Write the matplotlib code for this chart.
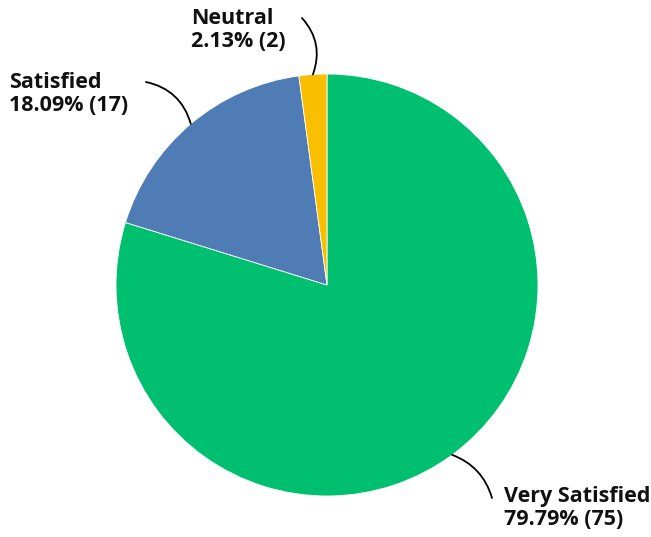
import numpy as np
import matplotlib.pyplot as plt

categories = ["Very Satisfied", "Satisfied", "Neutral"]
counts = [75, 17, 2]
colors = ["#00BF6F", "#507CB6", "#F9BE00"]

# label text anchor (left, top) and leader-line outer end, in pixel coords (y up)
label_pos = [(504, 51), (9, 465), (191, 529)]
line_end = [(492, 39), (146, 455), (302, 519)]
line_rad = [0.25, -0.3, -0.3]

W, H = 651, 537
cx, cy, R = 327, 252, 211

fig = plt.figure(figsize=(W / 100, H / 100), dpi=100)
ax = fig.add_axes([0, 0, 1, 1])

ax.pie(counts, colors=colors, startangle=90, counterclock=False,
       center=(cx, cy), radius=R, frame=True,
       wedgeprops=dict(edgecolor="white", linewidth=0.6))
ax.set_xlim(0, W)
ax.set_ylim(0, H)
ax.set_aspect("equal")
ax.axis("off")

total = sum(counts)
fracs = np.array(counts) / total
starts = 90 - 360 * np.concatenate([[0], np.cumsum(fracs)[:-1]])
mids = np.radians(starts - 360 * fracs / 2)

for i, cat in enumerate(categories):
    px = cx + R * np.cos(mids[i])
    py = cy + R * np.sin(mids[i])
    ax.annotate("", xy=(px, py), xytext=line_end[i],
                arrowprops=dict(arrowstyle="-", color="black", lw=1.3,
                                shrinkA=0, shrinkB=0,
                                connectionstyle=f"arc3,rad={line_rad[i]}"))
    label = f"{cat}\n{fracs[i] * 100:.2f}% ({counts[i]})"
    ax.text(label_pos[i][0], label_pos[i][1], label, ha="left", va="top",
            fontsize=15.5, fontweight="bold", family="Open Sans",
            color="#111111", linespacing=1.15)

fig.savefig("out.png", dpi=100)
